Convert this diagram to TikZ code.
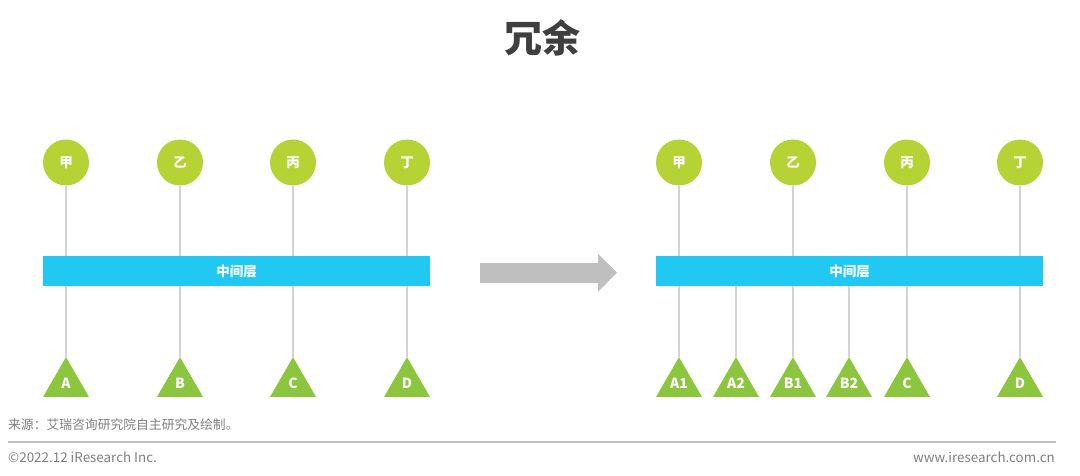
\documentclass[tikz,border=0pt]{standalone}
\usepackage{fontspec}
\setmainfont{Noto Sans CJK SC}
\usetikzlibrary{shapes.geometric}
\definecolor{circ}{HTML}{B5D334}
\definecolor{tri}{HTML}{8CC63F}
\definecolor{barc}{HTML}{20C8F2}
\definecolor{conn}{HTML}{D3D3D3}
\definecolor{arr}{HTML}{BFBFBF}
\definecolor{titlec}{HTML}{3F3F3F}
\definecolor{foot}{HTML}{7F7F7F}
\pgfdeclarelayer{bg}
\pgfsetlayers{bg,main}
\tikzset{
  circnode/.style={circle,fill=circ,minimum size=46pt,inner sep=0pt,text=white,font=\fontsize{13.5}{13.5}\selectfont\bfseries},
  trinode/.style={regular polygon,regular polygon sides=3,fill=tri,minimum size=53pt,inner sep=0pt,outer sep=0pt,text=white,font=\fontsize{14}{14}\selectfont\bfseries},
  barnode/.style={rectangle,fill=barc,minimum width=387pt,minimum height=30pt,inner sep=0pt,outer sep=0pt,text=white,font=\fontsize{13.5}{13.5}\selectfont\bfseries},
  connline/.style={draw=conn,line width=2pt},
  foottext/.style={text=foot,font=\fontsize{12.8}{13}\selectfont,inner sep=0pt}
}
\begin{document}
\begin{tikzpicture}[x=1pt,y=-1pt]
\useasboundingbox (0,0) rectangle (1080,476);
% title
\node[text=titlec,font=\fontsize{38}{38}\selectfont\bfseries] (title) at (542,38) {冗余};
% left panel
\node[barnode] (barL) at (236.5,271) {中间层};
\foreach \n/\x/\t in {a/66/甲,b/180/乙,c/293/丙,d/407/丁}{
  \node[circnode] (L\n) at (\x,162.5) {\t};
}
\foreach \n/\x/\t in {A/66/A,B/180/B,C/293/C,D/407/D}{
  \node[trinode] (T\n) at (\x,383.6) {\t};
}
\begin{pgfonlayer}{bg}
  \draw[connline] (La.south) -- (TA.corner 1);
  \draw[connline] (Lb.south) -- (TB.corner 1);
  \draw[connline] (Lc.south) -- (TC.corner 1);
  \draw[connline] (Ld.south) -- (TD.corner 1);
\end{pgfonlayer}
% arrow
\fill[arr] (480,263) -- (598,263) -- (598,254) -- (617,272.5) -- (598,292) -- (598,283) -- (480,283) -- cycle;
% right panel
\node[barnode] (barR) at (849.5,271) {中间层};
\foreach \n/\x/\t in {a/679/甲,b/793/乙,c/907/丙,d/1020/丁}{
  \node[circnode] (R\n) at (\x,162.5) {\t};
}
\foreach \n/\x/\t in {Aa/679/A1,Ab/736/A2,Ba/793/B1,Bb/849/B2,C/907/C,D/1020/D}{
  \node[trinode] (U\n) at (\x,383.6) {\t};
}
\begin{pgfonlayer}{bg}
  \draw[connline] (Ra.south) -- (UAa.corner 1);
  \draw[connline] (barR.south -| UAb.corner 1) -- (UAb.corner 1);
  \draw[connline] (Rb.south) -- (UBa.corner 1);
  \draw[connline] (barR.south -| UBb.corner 1) -- (UBb.corner 1);
  \draw[connline] (Rc.south) -- (UC.corner 1);
  \draw[connline] (Rd.south) -- (UD.corner 1);
\end{pgfonlayer}
% footer
\node[foottext,anchor=west] (src) at (8,425) {来源：艾瑞咨询研究院自主研究及绘制。};
\coordinate (ruleL) at (8,442);
\coordinate (ruleR) at (1056,442);
\draw[arr,line width=2pt] (ruleL) -- (ruleR);
\node[foottext,anchor=west,font=\fontsize{13.4}{13.4}\selectfont] (copy) at (8,457) {©2022.12 iResearch Inc.};
\node[foottext,anchor=east,font=\fontsize{13.4}{13.4}\selectfont] (www) at (1055,457) {www.iresearch.com.cn};
\end{tikzpicture}
\end{document}
